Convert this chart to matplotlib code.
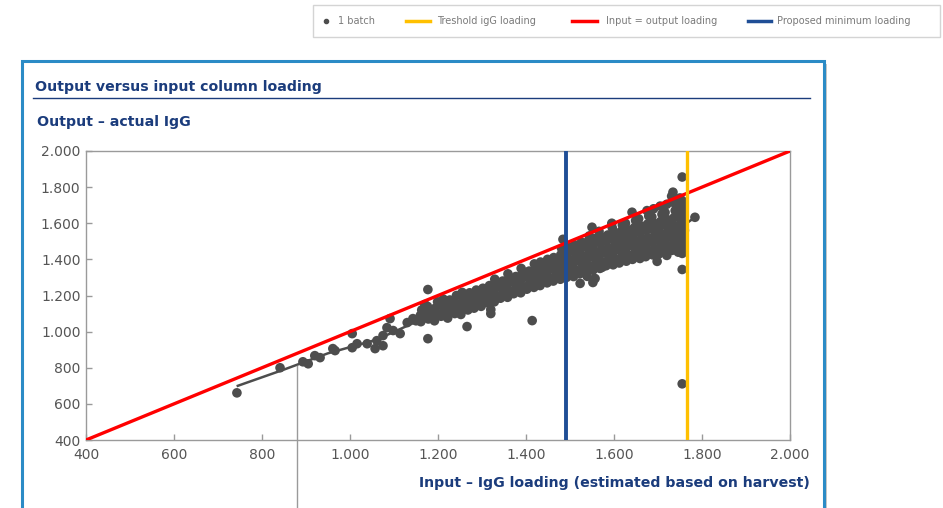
import matplotlib
matplotlib.use("Agg")
import matplotlib.pyplot as plt
from matplotlib.patches import Rectangle
from matplotlib.lines import Line2D
from matplotlib.ticker import FuncFormatter

# ---------------- data ----------------
x_ticks = [400, 600, 800, 1000, 1200, 1400, 1600, 1800, 2000]
y_ticks = [400, 600, 800, 1000, 1200, 1400, 1600, 1800, 2000]

threshold_loading = 1765      # yellow line
proposed_min_loading = 1490   # blue line
identity_x = [400, 2000]
identity_y = [400, 2000]

cursor_x = 880
cursor_y_top = 811

trend_x = [745, 850, 950, 1060, 1160, 1300, 1450, 1600, 1765, 1784]
trend_y = [700, 790, 880, 955, 1065, 1195, 1330, 1455, 1600, 1633]

batch_input = [
    # sparse low-loading batches
    743, 841, 893, 905, 920, 932, 961, 966, 1005, 1005, 1016, 1039, 1057,
    1061, 1075, 1075, 1084, 1091, 1098, 1114, 1130, 1143, 1150, 1160, 1177, 1177,
    # outliers around the cloud
    1266, 1320, 1320, 1414, 1255, 1484, 1550, 1595, 1641, 1734,
    1755, 1755, 1755, 1784, 1523, 1539, 1557, 1552, 1573,
    1625, 1659, 1698, 1720, 1755,
    # dense cloud
    1161, 1168, 1163, 1170,
    1178, 1183, 1176,
    1192, 1198, 1194, 1199,
    1207, 1213, 1209, 1212,
    1222, 1228, 1224, 1227,
    1238, 1243, 1237, 1242,
    1252, 1258, 1254, 1257,
    1268, 1273, 1267, 1272,
    1282, 1288, 1284, 1287,
    1298, 1303, 1297, 1302,
    1312, 1318, 1314, 1317,
    1328, 1333, 1327, 1332, 1329,
    1342, 1348, 1344, 1347,
    1358, 1363, 1357, 1362, 1359,
    1372, 1378, 1374, 1377,
    1388, 1393, 1387, 1392, 1389,
    1402, 1408, 1404, 1407,
    1418, 1423, 1417, 1422, 1419,
    1432, 1438, 1434, 1437, 1433,
    1448, 1453, 1447, 1452, 1449,
    1462, 1468, 1464, 1467, 1463,
    1478, 1483, 1477, 1482, 1479, 1481,
    1492, 1498, 1494, 1497, 1493, 1496,
    1508, 1513, 1507, 1512, 1509, 1511,
    1522, 1528, 1524, 1527, 1523, 1526,
    1538, 1543, 1537, 1542, 1539, 1541, 1544,
    1552, 1558, 1554, 1557, 1553, 1556,
    1568, 1573, 1567, 1572, 1569, 1571, 1566,
    1582, 1588, 1584, 1587, 1583, 1586,
    1598, 1603, 1597, 1602, 1599, 1601, 1596,
    1612, 1618, 1614, 1617, 1613, 1616, 1619,
    1628, 1633, 1627, 1632, 1629, 1631, 1626,
    1642, 1648, 1644, 1647, 1643, 1646, 1649,
    1658, 1663, 1657, 1662, 1659, 1661, 1656,
    1672, 1678, 1674, 1677, 1673, 1676, 1679, 1675,
    1688, 1693, 1687, 1692, 1689, 1691, 1686, 1690,
    1702, 1708, 1704, 1707, 1703, 1706, 1709, 1705,
    1718, 1723, 1717, 1722, 1719, 1721, 1716, 1720,
    1732, 1738, 1734, 1737, 1733, 1736, 1739, 1735, 1731,
    1746, 1750, 1747, 1749, 1745, 1751, 1748, 1746, 1750,
    1757, 1759, 1756, 1760, 1758, 1757, 1759, 1758,
]

batch_output = [
    # sparse low-loading batches
    661, 800, 833, 822, 867, 856, 906, 895, 989, 911, 933, 933, 906,
    950, 922, 978, 1022, 1072, 1006, 989, 1050, 1072, 1060, 1090, 961, 1233,
    # outliers around the cloud
    1028, 1122, 1100, 1061, 1217, 1511, 1578, 1600, 1661, 1772,
    1856, 711, 1344, 1633, 1267, 1306, 1294, 1272, 1356,
    1400, 1405, 1389, 1422, 1433,
    # dense cloud
    1055, 1090, 1120, 1150,
    1070, 1105, 1140,
    1060, 1095, 1130, 1165,
    1085, 1115, 1150, 1180,
    1075, 1110, 1140, 1175,
    1100, 1130, 1165, 1200,
    1095, 1125, 1160, 1190,
    1120, 1150, 1185, 1215,
    1130, 1160, 1195, 1230,
    1140, 1175, 1205, 1240,
    1160, 1190, 1225, 1255,
    1165, 1200, 1230, 1265, 1290,
    1185, 1215, 1250, 1280,
    1190, 1225, 1260, 1295, 1320,
    1210, 1240, 1275, 1305,
    1215, 1250, 1285, 1320, 1350,
    1235, 1265, 1300, 1335,
    1245, 1280, 1310, 1345, 1375,
    1255, 1290, 1320, 1355, 1385,
    1270, 1300, 1335, 1365, 1400,
    1280, 1315, 1345, 1380, 1410,
    1290, 1325, 1360, 1390, 1425, 1460,
    1300, 1335, 1365, 1400, 1435, 1470,
    1305, 1340, 1375, 1410, 1445, 1480,
    1320, 1350, 1385, 1420, 1455, 1495,
    1330, 1365, 1395, 1430, 1465, 1500, 1530,
    1340, 1375, 1410, 1445, 1480, 1515,
    1350, 1385, 1420, 1455, 1490, 1525, 1555,
    1365, 1395, 1430, 1465, 1500, 1535,
    1370, 1405, 1440, 1475, 1510, 1545, 1575,
    1380, 1415, 1450, 1485, 1520, 1555, 1590,
    1390, 1425, 1460, 1495, 1530, 1565, 1600,
    1400, 1435, 1470, 1505, 1540, 1575, 1615,
    1410, 1445, 1480, 1515, 1550, 1585, 1625,
    1415, 1450, 1485, 1520, 1560, 1595, 1640, 1670,
    1425, 1460, 1495, 1530, 1565, 1600, 1635, 1680,
    1430, 1465, 1500, 1540, 1575, 1610, 1650, 1695,
    1440, 1475, 1510, 1545, 1585, 1620, 1660, 1705,
    1450, 1480, 1515, 1555, 1590, 1630, 1670, 1715, 1750,
    1440, 1475, 1510, 1550, 1585, 1625, 1665, 1700, 1740,
    1455, 1490, 1525, 1560, 1600, 1640, 1680, 1720,
]

legend_labels = ["1 batch", "Treshold igG loading", "Input = output loading",
                 "Proposed minimum loading"]
title_text = "Output versus input column loading"
y_title = "Output \u2013 actual IgG"
x_title = "Input \u2013 IgG loading (estimated based on harvest)"

# ---------------- styling ----------------
W, H = 943, 508
NAVY = "#1b3c7c"
POINT = "#4d4d4d"
RED = "#ff0000"
YELLOW = "#ffc000"
BLUE = "#1f4e96"
GRID = "#9a9a9a"
TICKTXT = "#555555"

def fx(px):
    return px / W

def fy(py):
    return 1 - py / H

fig = plt.figure(figsize=(W / 100, H / 100), dpi=100)
fig.patch.set_facecolor("white")

# panel with shadow
fig.add_artist(Rectangle((fx(25), fy(530)), fx(824 - 22), fy(64) - fy(530),
                         transform=fig.transFigure, facecolor="#c8c8c8",
                         edgecolor="none", zorder=0))
fig.add_artist(Rectangle((fx(22), fy(530)), fx(824 - 22), fy(61) - fy(530),
                         transform=fig.transFigure, facecolor="white",
                         edgecolor="#2b8bc6", linewidth=2.2, zorder=1))

# title + underline
TFS = 10.2
fig.text(fx(35), fy(87), title_text, color=NAVY, fontsize=TFS,
         fontweight="bold", va="center", ha="left", zorder=3)
fig.add_artist(Line2D([fx(33), fx(810)], [fy(97.5), fy(97.5)], color=NAVY,
                      linewidth=1.0, transform=fig.transFigure, zorder=3))
fig.text(fx(37), fy(122), y_title, color=NAVY, fontsize=TFS,
         fontweight="bold", va="center", ha="left", zorder=3)
fig.text(fx(810), fy(483), x_title, color=NAVY, fontsize=TFS,
         fontweight="bold", va="center", ha="right", zorder=3)

# legend box at top
fig.add_artist(Rectangle((fx(313), fy(37)), fx(940 - 313), fy(5) - fy(37),
                         transform=fig.transFigure, facecolor="white",
                         edgecolor="#d4d4d4", linewidth=1.0, zorder=1))
ly = fy(21)
fig.add_artist(Line2D([fx(326)], [ly], marker="o", markersize=3,
                      color=POINT, linestyle="none",
                      transform=fig.transFigure, zorder=3))
leg_cols = [YELLOW, RED, BLUE]
leg_line_x = [(406, 430), (572, 597), (748, 771)]
leg_text_x = [338, 437, 606, 777]
for (a, b), c in zip(leg_line_x, leg_cols):
    fig.add_artist(Line2D([fx(a), fx(b)], [ly, ly], color=c, linewidth=2.5,
                          transform=fig.transFigure, zorder=3))
for tx, lab in zip(leg_text_x, legend_labels):
    fig.text(fx(tx), ly, lab, fontsize=7, color="#7a7a7a", va="center",
             ha="left", zorder=3)

# axes
ax = fig.add_axes([fx(86), fy(440), fx(790) - fx(86), fy(151) - fy(440)])
ax.set_zorder(2)
ax.set_facecolor("white")
ax.set_xlim(400, 2000)
ax.set_ylim(400, 2000)
ax.set_xticks(x_ticks)
ax.set_yticks(y_ticks)
fmt = FuncFormatter(lambda v, p: f"{int(v):,}".replace(",", "."))
ax.xaxis.set_major_formatter(fmt)
ax.yaxis.set_major_formatter(fmt)
for s in ax.spines.values():
    s.set_color(GRID)
    s.set_linewidth(1.0)
ax.tick_params(axis="both", direction="in", length=4, width=1, color=GRID,
               labelsize=10, labelcolor=TICKTXT)
ax.tick_params(axis="x", pad=6)
ax.tick_params(axis="y", pad=4)

ax.plot(trend_x, trend_y, color=POINT, linewidth=1.8, zorder=3)
ax.scatter(batch_input, batch_output, s=48, color=POINT, edgecolors="none",
           zorder=4)
ax.plot(identity_x, identity_y, color=RED, linewidth=2.4, zorder=5,
        solid_capstyle="butt")
ax.axvline(proposed_min_loading, color=BLUE, linewidth=2.8, zorder=6)
ax.axvline(threshold_loading, color=YELLOW, linewidth=2.4, zorder=6)

# crosshair cursor line
ax.plot([cursor_x, cursor_x], [cursor_y_top, 0], color=GRID, linewidth=1.0,
        zorder=3, clip_on=False)

fig.savefig("out.png", dpi=100)
